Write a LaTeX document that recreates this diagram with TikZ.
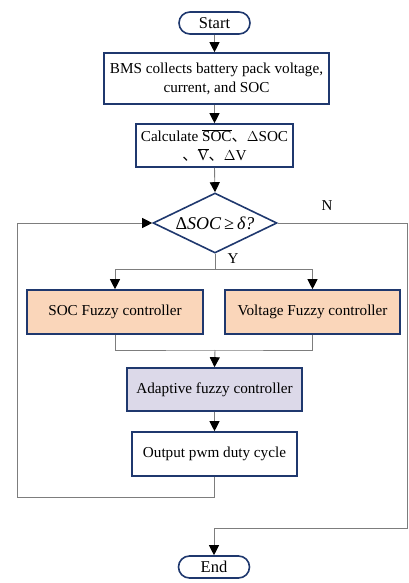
\documentclass[tikz,border=0pt]{standalone}
\usepackage{fontspec}
\setmainfont{Liberation Serif}
\newfontfamily\cjk{Noto Sans CJK SC}
\usetikzlibrary{shapes.geometric,shapes.misc,arrows.meta}
\definecolor{frame}{RGB}{31,56,110}
\definecolor{wirec}{RGB}{125,125,125}
\definecolor{peach}{RGB}{250,214,186}
\definecolor{lavender}{RGB}{220,217,233}
\newcommand{\dunhao}{{\cjk 、}}
\tikzset{
  box/.style={draw=frame, line width=1.6pt, rectangle, inner sep=0pt, align=center,
              font=\fontsize{15.2}{19}\selectfont},
  term/.style={draw=frame, line width=1.6pt, rounded rectangle, minimum width=71pt,
               minimum height=22pt, inner sep=0pt, font=\fontsize{16.5}{18}\selectfont},
  decision/.style={draw=frame, line width=1.6pt, diamond, inner sep=0pt,
                   minimum width=124pt, minimum height=60pt},
  decisiontext/.style={font=\fontsize{18}{20}\selectfont, inner sep=0pt},
  wire/.style={draw=wirec, line width=0.9pt},
  flow/.style={wire, -{Triangle[width=10pt,length=10pt,color=black]}},
  tag/.style={font=\fontsize{15}{17}\selectfont, inner sep=0pt},
}
\begin{document}
\begin{tikzpicture}[x=1pt,y=-1pt]
  \useasboundingbox (0,0) rectangle (408,583);

  % process chain
  \node[term] (start) at (214.5,23) {Start};
  \node[box, minimum width=225pt, minimum height=51pt] (bms) at (216.5,78.5)
    {BMS collects battery pack voltage,\\ current, and SOC};
  \node[box, minimum width=157pt, minimum height=43pt] (calc) at (214.5,145.5)
    {Calculate $\overline{\mbox{SOC}}$\dunhao$\Delta$SOC\\ \dunhao$\overline{\mbox{V}}$\dunhao$\Delta$V};
  \node[decision] (dec) at (215,223) {};
  \node[decisiontext] (dectext) at (dec.center)
    {{\upshape Δ}\textit{SOC\,≥\,δ?}};
  \node[box, fill=peach, minimum width=176pt, minimum height=44pt] (soc) at (115,312)
    {SOC Fuzzy controller};
  \node[box, fill=peach, minimum width=175pt, minimum height=44pt] (volt) at (312.5,312)
    {Voltage Fuzzy controller};
  \node[box, fill=lavender, minimum width=175pt, minimum height=43pt] (adapt) at (214.5,389.5)
    {Adaptive fuzzy controller};
  \node[box, minimum width=165pt, minimum height=44pt] (out) at (214.5,454)
    {Output pwm duty cycle};
  \node[term] (end) at (214,567) {End};

  % routing points
  \coordinate (split) at (215,269);
  \coordinate (merge) at (215,350);
  \coordinate (loopb) at (17,497);
  \coordinate (rb) at (407,528);

  % connectors
  \draw[flow] (start.south) -- (start.south |- bms.north);
  \draw[flow] (calc.north |- bms.south) -- (calc.north);
  \draw[flow] (calc.south) -- (dec.north);
  \draw[wire] (dec.south) -- (split);
  \draw[flow] (split) -| (soc.north);
  \draw[flow] (split) -| (volt.north);
  \draw[wire] (soc.south) |- (merge) -| (volt.south);
  \draw[flow] (merge) -- (adapt.north);
  \draw[flow] (adapt.south) -- (out.north);
  \draw[flow] (out.south) |- (loopb) |- (dec.west);
  \draw[flow] (dec.east) -| (rb) -| (end.north);

  % branch labels
  \node[tag] (nlab) at (327,206) {N};
  \node[tag] (ylab) at (233,259) {Y};
\end{tikzpicture}
\end{document}
